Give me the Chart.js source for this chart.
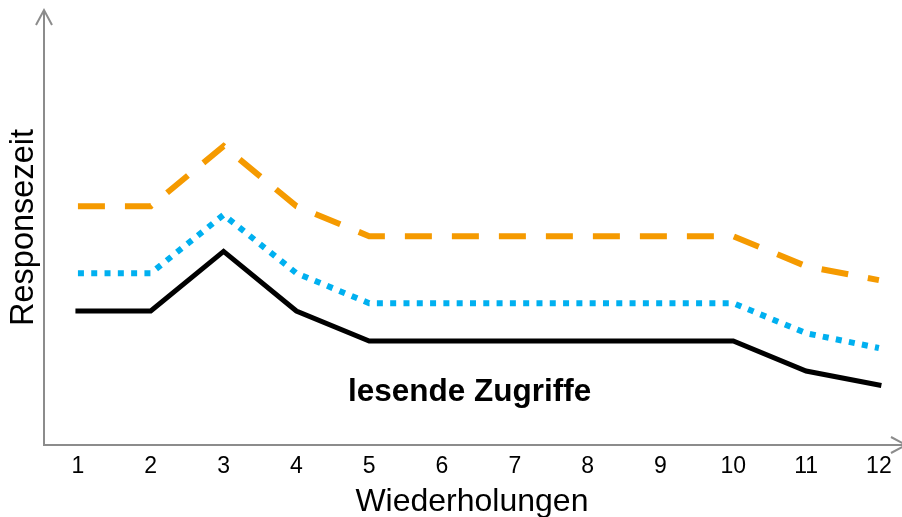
<!DOCTYPE html>
<html>
<head>
<meta charset="utf-8">
<title>Responsezeit</title>
<script src="https://cdn.jsdelivr.net/npm/chart.js@4.4.1/dist/chart.umd.min.js"></script>
<style>
    html, body { margin: 0; padding: 0; background: #ffffff; }
    .chart-container { position: relative; width: 902px; height: 517px; }
</style>
</head>
<body>
<div class="chart-container">
    <canvas id="chartCanvas"></canvas>
</div>
<script>
// Daten (relative Einheiten 0..100)
const wiederholungen = [1, 2, 3, 4, 5, 6, 7, 8, 9, 10, 11, 12];
const reiheSchwarz = [30.8, 30.8, 44.5, 30.8, 23.9, 23.9, 23.9, 23.9, 23.9, 23.9, 17.0, 13.8];
const reiheBlau = [39.5, 39.5, 52.9, 39.5, 32.6, 32.6, 32.6, 32.6, 32.6, 32.6, 25.7, 22.3];
const reiheOrange = [54.9, 54.9, 68.7, 54.9, 48.0, 48.0, 48.0, 48.0, 48.0, 48.0, 41.1, 37.9];
const beschriftung = 'lesende Zugriffe';
const beschriftungPos = { x: 6.38, y: 12.2 };

const FONT = "'Liberation Sans', Arial, sans-serif";
const AXIS_COLOR = '#8c8c8c';

function toPoints(values) {
    return values.map((v, i) => ({ x: wiederholungen[i], y: v }));
}

// Achsen mit Pfeilspitzen zeichnen
const axisArrows = {
    id: 'axisArrows',
    afterDatasetsDraw(chart) {
        const { ctx, chartArea } = chart;
        const left = chartArea.left;
        const bottom = chartArea.bottom;
        const top = chartArea.top;
        const right = chart.width + 4;
        ctx.save();
        ctx.strokeStyle = AXIS_COLOR;
        ctx.lineWidth = 2;
        ctx.lineCap = 'butt';
        ctx.beginPath();
        ctx.moveTo(left, top);
        ctx.lineTo(left, bottom);
        ctx.lineTo(right, bottom);
        ctx.stroke();
        // Pfeil oben
        ctx.beginPath();
        ctx.moveTo(left - 8, top + 15);
        ctx.lineTo(left, top);
        ctx.lineTo(left + 8, top + 15);
        ctx.stroke();
        // Pfeil rechts
        ctx.beginPath();
        ctx.moveTo(right - 15, bottom - 8);
        ctx.lineTo(right, bottom);
        ctx.lineTo(right - 15, bottom + 8);
        ctx.stroke();
        ctx.restore();
    }
};

// Beschriftung im Diagramm
const innerLabel = {
    id: 'innerLabel',
    afterDatasetsDraw(chart) {
        const { ctx, scales } = chart;
        ctx.save();
        ctx.font = 'bold 31.5px ' + FONT;
        ctx.fillStyle = '#000000';
        ctx.textAlign = 'center';
        ctx.textBaseline = 'middle';
        ctx.fillText(beschriftung, scales.x.getPixelForValue(beschriftungPos.x), scales.y.getPixelForValue(beschriftungPos.y));
        ctx.restore();
    }
};

document.addEventListener('DOMContentLoaded', () => {
    const ctx = document.getElementById('chartCanvas').getContext('2d');
    new Chart(ctx, {
        type: 'line',
        data: {
            datasets: [
                {
                    label: 'orange',
                    data: toPoints(reiheOrange),
                    borderColor: '#f59a00',
                    borderWidth: 6,
                    borderDash: [27, 20],
                    borderCapStyle: 'butt',
                    pointRadius: 0,
                    fill: false,
                    tension: 0
                },
                {
                    label: 'blau',
                    data: toPoints(reiheBlau),
                    borderColor: '#00b0f0',
                    borderWidth: 6,
                    borderDash: [6, 7.3],
                    borderCapStyle: 'butt',
                    pointRadius: 0,
                    fill: false,
                    tension: 0
                },
                {
                    label: 'schwarz',
                    data: toPoints(reiheSchwarz),
                    borderColor: '#000000',
                    borderWidth: 5,
                    borderCapStyle: 'square',
                    pointRadius: 0,
                    fill: false,
                    tension: 0
                }
            ]
        },
        options: {
            responsive: true,
            maintainAspectRatio: false,
            animation: false,
            layout: { padding: { left: 0, right: 0, top: 10, bottom: 0 } },
            plugins: {
                legend: { display: false },
                tooltip: { enabled: false }
            },
            scales: {
                x: {
                    type: 'linear',
                    min: 0.534,
                    max: 12.288,
                    afterBuildTicks: (scale) => {
                        scale.ticks = wiederholungen.map(v => ({ value: v }));
                    },
                    grid: { display: false, drawTicks: false },
                    border: { display: false },
                    ticks: {
                        padding: 10.3,
                        color: '#000000',
                        maxRotation: 0,
                        autoSkip: false,
                        font: { family: FONT, size: 23, lineHeight: 1.0 }
                    },
                    title: {
                        display: true,
                        text: 'Wiederholungen',
                        color: '#000000',
                        font: { family: FONT, size: 32, lineHeight: '26.2px' },
                        padding: { top: 0, bottom: 2.2 }
                    }
                },
                y: {
                    min: 0,
                    max: 100,
                    grid: { display: false, drawTicks: false },
                    border: { display: false },
                    ticks: { display: false },
                    title: {
                        display: true,
                        text: 'Responsezeit',
                        color: '#000000',
                        font: { family: FONT, size: 32.5, lineHeight: 1.2 },
                        padding: { top: 4.3, bottom: 0.7 }
                    }
                }
            }
        },
        plugins: [axisArrows, innerLabel]
    });
});
</script>
</body>
</html>
